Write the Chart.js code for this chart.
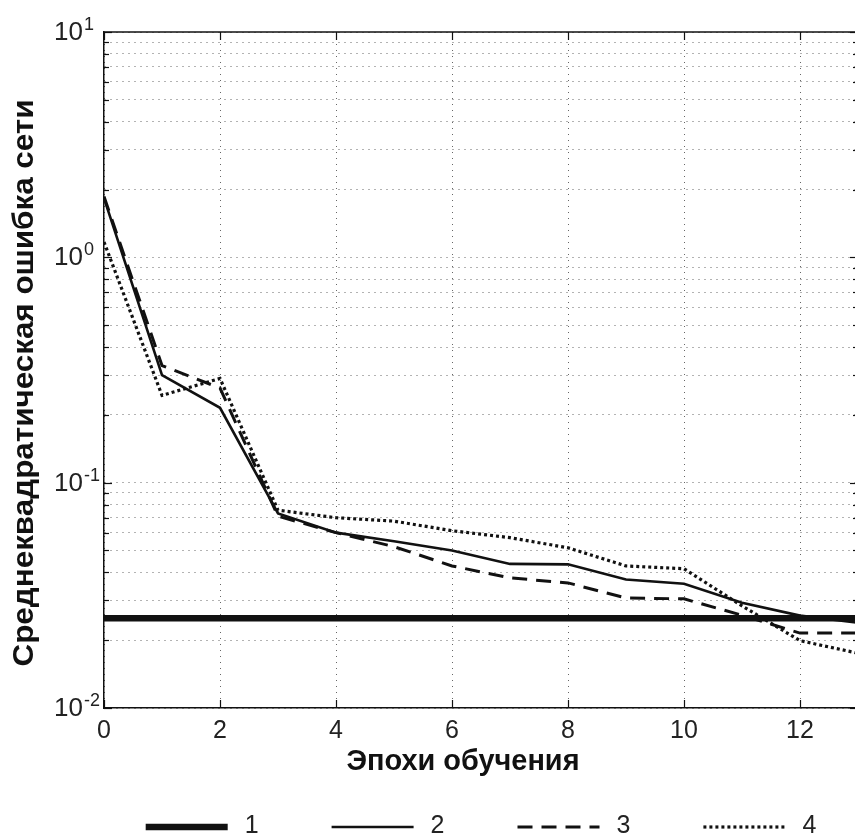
<!DOCTYPE html>
<html>
<head>
<meta charset="utf-8">
<script src="https://cdn.jsdelivr.net/npm/chart.js@4.4.1/dist/chart.umd.min.js"></script>
<style>
html,body{margin:0;padding:0;background:#fff;overflow:hidden;}
#wrap{width:860px;height:834px;}
</style>
</head>
<body>
<div id="wrap"><canvas id="c" width="860" height="834"></canvas></div>
<script>
// ---- data ----
const epochs = [0,1,2,3,4,5,6,7,8,9,10,11,12,13];
const seriesLabels = ['1','2','3','4'];
const series1 = [0.025,0.025,0.025,0.025,0.025,0.025,0.025,0.025,0.025,0.025,0.025,0.025,0.025,0.025];
const series2 = [1.83,0.30,0.215,0.073,0.060,0.055,0.050,0.0436,0.0434,0.0372,0.0356,0.0293,0.0257,0.0239];
const series3 = [1.86,0.331,0.263,0.071,0.060,0.052,0.0427,0.0378,0.0359,0.0308,0.0305,0.0258,0.0215,0.0215];
const series4 = [1.17,0.244,0.29,0.0755,0.0699,0.0675,0.0612,0.057,0.0514,0.0427,0.0415,0.0284,0.0199,0.0175];
const xTickStep = 2;
const yDecades = [-2,-1,0,1];
const xTitle = 'Эпохи обучения';
const yTitle = 'Среднеквадратическая ошибка сети';

const FONT = "'Liberation Sans', Arial, sans-serif";
const INK = '#111';

function pts(vals){ return epochs.map((x,i)=>({x:x,y:vals[i]})); }

const styles = [
  {borderWidth:6.5, borderDash:[]},
  {borderWidth:2.6, borderDash:[]},
  {borderWidth:3, borderDash:[15,9]},
  {borderWidth:3.2, borderDash:[3,3]}
];
const allSeries = [series1,series2,series3,series4];

const datasets = allSeries.map((s,i)=>({
  label: seriesLabels[i],
  data: pts(s),
  borderColor: INK,
  backgroundColor: INK,
  borderWidth: styles[i].borderWidth,
  borderDash: styles[i].borderDash,
  borderCapStyle: 'butt',
  borderJoinStyle: 'miter',
  pointRadius: 0,
  tension: 0,
  fill: false
}));

function logTicks(){
  const t = [];
  for (let k=0;k<yDecades.length-1;k++){
    const e = yDecades[k];
    for (let m=1;m<=9;m++){ t.push(parseFloat((m*Math.pow(10,e)).toPrecision(6))); }
  }
  t.push(Math.pow(10, yDecades[yDecades.length-1]));
  return t;
}

function stretchedText(ctx, text, cx, cy, targetW){
  const w = ctx.measureText(text).width;
  const k = targetW / w;
  ctx.save();
  ctx.translate(cx, cy);
  ctx.scale(k, 1);
  ctx.fillText(text, 0, 0);
  ctx.restore();
}

const overlay = {
  id: 'overlay',
  afterDraw(chart){
    const ctx = chart.ctx;
    const a = chart.chartArea;
    const xs = chart.scales.x, ys = chart.scales.y;
    ctx.save();
    ctx.strokeStyle = INK; ctx.lineWidth = 1.5; ctx.setLineDash([]);
    // top border
    ctx.beginPath(); ctx.moveTo(a.left, a.top); ctx.lineTo(a.right, a.top); ctx.stroke();
    ctx.beginPath(); ctx.moveTo(a.right, a.top); ctx.lineTo(a.right, a.bottom); ctx.stroke();
    // inner y ticks
    ctx.lineWidth = 1.2;
    ys.ticks.forEach(t=>{
      const y = Math.round(ys.getPixelForValue(t.value))+0.5;
      const lg = Math.log10(t.value);
      const len = Math.abs(lg-Math.round(lg))<1e-6 ? 8 : 5;
      ctx.beginPath(); ctx.moveTo(a.left, y); ctx.lineTo(a.left+len, y); ctx.stroke();
      ctx.beginPath(); ctx.moveTo(a.right, y); ctx.lineTo(a.right-len, y); ctx.stroke();
    });
    // inner x ticks
    xs.ticks.forEach(t=>{
      const x = Math.round(xs.getPixelForValue(t.value))+0.5;
      ctx.beginPath(); ctx.moveTo(x, a.bottom); ctx.lineTo(x, a.bottom-8); ctx.stroke();
      ctx.beginPath(); ctx.moveTo(x, a.top); ctx.lineTo(x, a.top+8); ctx.stroke();
    });
    // y labels: 10^e
    ctx.fillStyle = '#222';
    yDecades.forEach(e=>{
      const y = ys.getPixelForValue(Math.pow(10,e));
      ctx.font = '26px ' + FONT;
      ctx.textAlign = 'right'; ctx.textBaseline = 'alphabetic';
      ctx.fillText('10', 83, y+8);
      ctx.font = '18px ' + FONT;
      ctx.textAlign = 'left';
      ctx.fillText(e<0 ? '-'+Math.abs(e) : String(e), 84, y-2);
    });
    // axis titles
    ctx.fillStyle = INK;
    ctx.font = 'bold 29px ' + FONT;
    ctx.textAlign = 'center'; ctx.textBaseline = 'alphabetic';
    stretchedText(ctx, xTitle, 463, 770, 233);
    ctx.save();
    ctx.translate(33, 383);
    ctx.rotate(-Math.PI/2);
    stretchedText(ctx, yTitle, 0, 0, 567);
    ctx.restore();
    // legend
    const lineLen = 82, gap = 17, pad = 73, ly = 827;
    ctx.font = '25px ' + FONT;
    const items = chart.data.datasets.map(d=>({d, w: lineLen + gap + ctx.measureText(d.label).width}));
    const total = items.reduce((s,it)=>s+it.w,0) + pad*(items.length-1);
    let x = (a.left + a.right)/2 - total/2;
    items.forEach(it=>{
      ctx.strokeStyle = INK;
      ctx.lineWidth = it.d.borderWidth;
      ctx.setLineDash(it.d.borderDash);
      ctx.lineCap = 'butt';
      ctx.beginPath(); ctx.moveTo(x, ly); ctx.lineTo(x+lineLen, ly); ctx.stroke();
      ctx.setLineDash([]);
      ctx.fillStyle = '#222';
      ctx.textAlign = 'left'; ctx.textBaseline = 'alphabetic';
      ctx.fillText(it.d.label, x+lineLen+gap, 833);
      x += it.w + pad;
    });
    ctx.restore();
  }
};

new Chart(document.getElementById('c'), {
  type: 'line',
  data: { datasets },
  options: {
    responsive: false,
    animation: false,
    devicePixelRatio: 1,
    layout: { padding: { top: 32, right: 2, left: 0, bottom: 0 } },
    plugins: { legend: { display: false }, tooltip: { enabled: false } },
    scales: {
      x: {
        type: 'linear',
        min: epochs[0],
        max: epochs[epochs.length-1],
        afterFit(s){ s.height = 126; },
        ticks: { stepSize: xTickStep, includeBounds: false, color: '#222', font: { family: FONT, size: 25 }, padding: 8, maxRotation: 0, autoSkip: false },
        grid: { color: '#666', lineWidth: 1, drawTicks: false },
        border: { color: INK, width: 1.5, dash: [1,5] }
      },
      y: {
        type: 'logarithmic',
        min: Math.pow(10, yDecades[0]),
        max: Math.pow(10, yDecades[yDecades.length-1]),
        afterFit(s){ s.width = 104; },
        afterBuildTicks(s){ s.ticks = logTicks().map(v=>({value:v})); },
        ticks: { display: false, autoSkip: false },
        grid: { color: '#666', lineWidth: 1, drawTicks: false },
        border: { color: INK, width: 1.5, dash: [1,5] }
      }
    }
  },
  plugins: [overlay]
});
</script>
</body>
</html>
